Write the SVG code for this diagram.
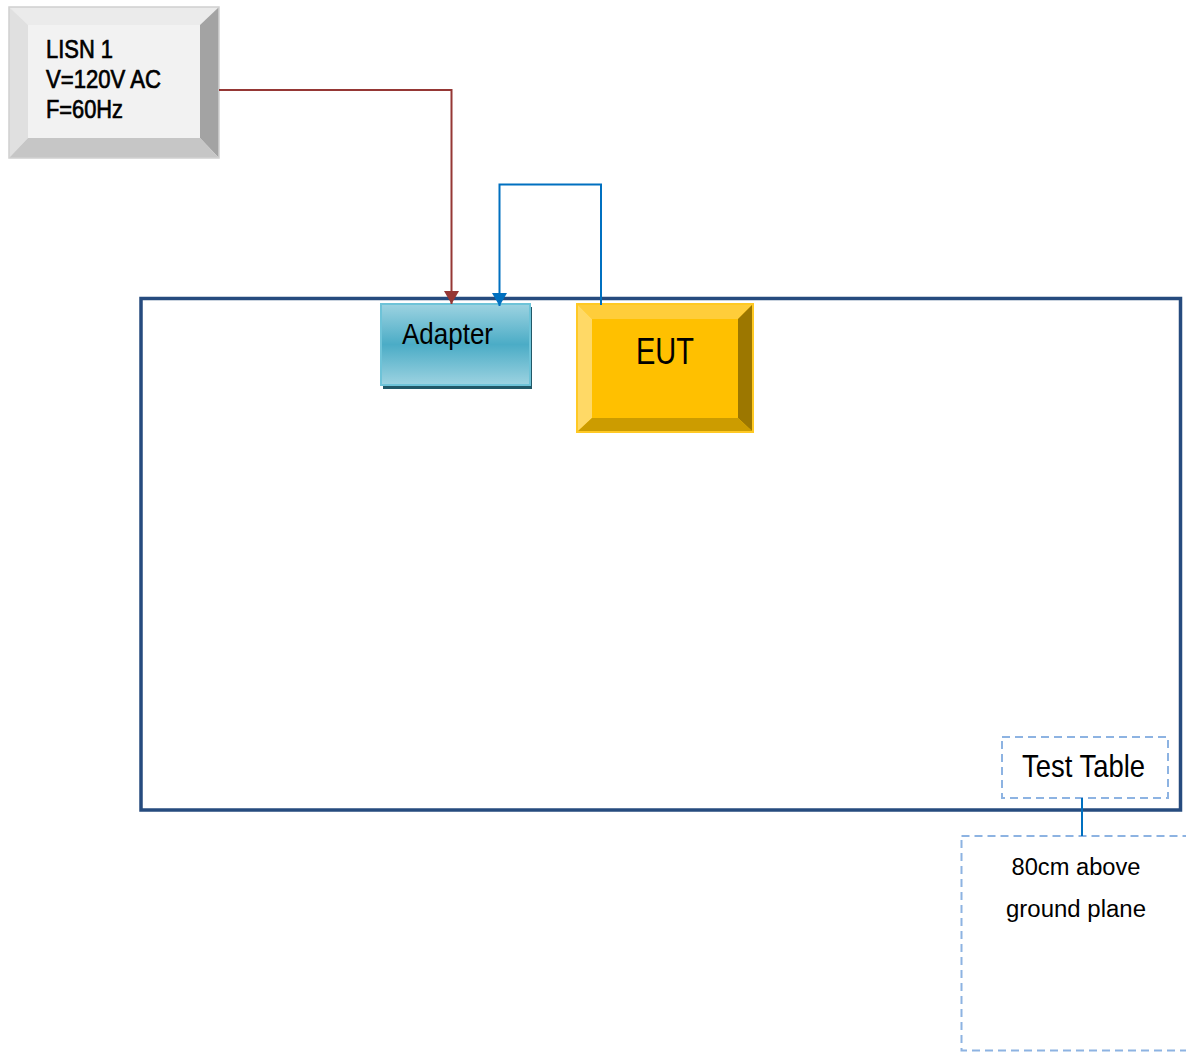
<svg xmlns="http://www.w3.org/2000/svg" width="1186" height="1052" viewBox="0 0 1186 1052">
  <style>
    .lbl { font-family: "Liberation Sans", Arial, sans-serif; fill: #000; }
    .heavy { stroke: #000; stroke-width: 0.7; }
    .dash { fill: none; stroke: #8db3e2; stroke-width: 2; stroke-dasharray: 8 5; }
    .wire-red { fill: none; stroke: #953735; stroke-width: 2; }
    .wire-blue { fill: none; stroke: #0070c0; stroke-width: 2; }
  </style>
  <defs>
    <linearGradient id="adapterFill" x1="0" y1="0" x2="0" y2="1">
      <stop offset="0" stop-color="#9dd3e1"/>
      <stop offset="0.5" stop-color="#4bacc6"/>
      <stop offset="1" stop-color="#9dd3e1"/>
    </linearGradient>
    <marker id="arrowRed" markerUnits="userSpaceOnUse" markerWidth="13" markerHeight="16" refX="13" refY="8" orient="auto">
      <path d="M0,0.5 L13,8 L0,15.5 z" fill="#953735"/>
    </marker>
    <marker id="arrowBlue" markerUnits="userSpaceOnUse" markerWidth="13" markerHeight="16" refX="13" refY="8" orient="auto">
      <path d="M0,0.5 L13,8 L0,15.5 z" fill="#0070c0"/>
    </marker>
  </defs>

  <rect width="1186" height="1052" fill="#ffffff"/>

  <!-- test table outline -->
  <g id="test-table">
    <rect x="141" y="298.5" width="1039.5" height="511.5" fill="none" stroke="#264b7e" stroke-width="3.5"/>
  </g>

  <!-- LISN bevelled box -->
  <g id="lisn">
    <rect x="9" y="7" width="210" height="151" fill="#f2f2f2"/>
    <polygon points="9,7 219,7 200,25 28,25" fill="#ebebeb"/>
    <polygon points="9,7 28,25 28,138 9,158" fill="#e0e0e0"/>
    <polygon points="219,7 219,158 200,138 200,25" fill="#a3a3a3"/>
    <polygon points="9,158 28,138 200,138 219,158" fill="#c6c6c6"/>
    <rect x="28" y="25" width="172" height="113" fill="#f2f2f2"/>
    <rect x="9" y="7" width="210" height="151" fill="none" stroke="#d0d0d0" stroke-width="1.5"/>
    <text class="lbl heavy" x="46" y="58" font-size="26" textLength="67" lengthAdjust="spacingAndGlyphs">LISN 1</text>
    <text class="lbl heavy" x="46" y="88" font-size="26" textLength="115" lengthAdjust="spacingAndGlyphs">V=120V AC</text>
    <text class="lbl heavy" x="46" y="118" font-size="26" textLength="77" lengthAdjust="spacingAndGlyphs">F=60Hz</text>
  </g>

  <!-- adapter -->
  <g id="adapter">
    <rect x="383" y="307" width="149" height="82" fill="#215868"/>
    <rect x="381" y="304" width="149" height="81" fill="url(#adapterFill)" stroke="#6ec3d8" stroke-width="2"/>
    <text class="lbl" x="402" y="344" font-size="30" textLength="91" lengthAdjust="spacingAndGlyphs">Adapter</text>
  </g>

  <!-- equipment under test -->
  <g id="eut">
    <rect x="577" y="304" width="176" height="128" fill="#ffc000"/>
    <polygon points="577,304 753,304 738,319 592,319" fill="#ffcd3a"/>
    <polygon points="577,304 592,319 592,418 577,432" fill="#ffd966"/>
    <polygon points="753,304 753,432 738,418 738,319" fill="#9c7700"/>
    <polygon points="577,432 592,418 738,418 753,432" fill="#cc9c00"/>
    <rect x="577" y="304" width="176" height="128" fill="none" stroke="#ffc924" stroke-width="2"/>
    <text class="lbl" x="665" y="364" font-size="37" text-anchor="middle" textLength="58" lengthAdjust="spacingAndGlyphs">EUT</text>
  </g>

  <!-- table label -->
  <g id="table-label">
    <rect class="dash" x="1002" y="737" width="166" height="61"/>
    <text class="lbl" x="1022" y="777" font-size="32" textLength="123" lengthAdjust="spacingAndGlyphs">Test Table</text>
  </g>

  <!-- height note -->
  <g id="ground-note">
    <rect class="dash" x="961.5" y="836" width="240" height="214.5"/>
    <text class="lbl" x="1076" y="875" font-size="23" text-anchor="middle" textLength="129" lengthAdjust="spacingAndGlyphs">80cm above</text>
    <text class="lbl" x="1076" y="917" font-size="23" text-anchor="middle" textLength="140" lengthAdjust="spacingAndGlyphs">ground plane</text>
  </g>

  <!-- wiring -->
  <g id="connectors">
    <polyline class="wire-red" points="219,90 451.5,90 451.5,304" marker-end="url(#arrowRed)"/>
    <polyline class="wire-blue" points="601,305 601,184.5 499.5,184.5 499.5,306" marker-end="url(#arrowBlue)"/>
    <line class="wire-blue" x1="1082" y1="798" x2="1082" y2="836"/>
  </g>
</svg>
